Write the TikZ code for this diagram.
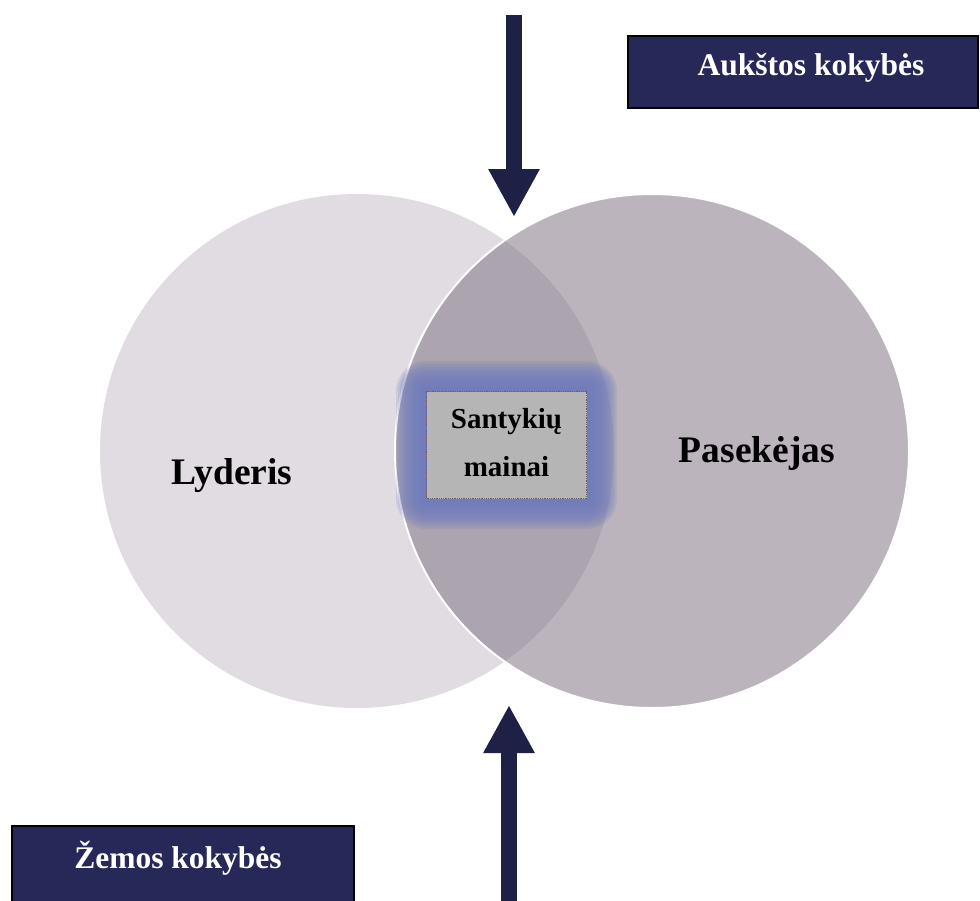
\documentclass[tikz,border=0pt]{standalone}
\usepackage{fontspec}
\setmainfont{Liberation Serif}
\usetikzlibrary{arrows.meta}

\definecolor{leaderfill}{RGB}{224,220,226}
\definecolor{followerfill}{RGB}{126,113,128}
\definecolor{navybox}{RGB}{38,41,87}
\definecolor{arrowink}{RGB}{30,32,69}
\definecolor{glowblue}{RGB}{112,124,190}
\definecolor{exchangefill}{RGB}{181,181,181}
\definecolor{dotline}{RGB}{110,95,112}

\tikzset{
  setcircle/.style={circle, minimum size=514pt, inner sep=0pt},
  biglabel/.style={font=\fontsize{37.5}{42}\selectfont\bfseries, text=black},
  qualitybox/.style={draw=black, line width=1.5pt, fill=navybox, inner sep=0pt},
  qualitytext/.style={font=\fontsize{31.5}{36}\selectfont\bfseries, text=white},
  exchangebox/.style={draw=dotline, densely dotted, line width=0.8pt, fill=exchangefill,
    minimum width=160pt, minimum height=107pt, inner sep=0pt},
  exchangetext/.style={font=\fontsize{29}{48}\selectfont\bfseries, align=center, text=black},
  bigarrow/.style={draw=arrowink, line width=16pt, -{Triangle[width=48pt,length=48pt]}},
}

\begin{document}
\begin{tikzpicture}[x=1pt,y=-1pt]
  \useasboundingbox (0,0) rectangle (980,900);
  \fill[white] (0,0) rectangle (980,900);

  % the two overlapping sets
  \node[setcircle, fill=leaderfill] (leader) at (357,451) {};
  \node[setcircle, draw=white, line width=2pt, fill=followerfill, fill opacity=0.52] (follower) at (652,451) {};

  % soft blue halo behind the exchange box
  \foreach \k in {1,...,15} {
    \fill[glowblue, opacity=0.17, rounded corners=2*\k pt]
      (426-2*\k, 391-2*\k) rectangle (587+2*\k, 499+2*\k);
  }

  % exchange box in the overlap
  \node[exchangebox] (exchange) at (506.5,445) {};
  \node[exchangetext] (exchangelabel) at (506.5,443) {Santykių\\mainai};

  % set labels
  \node[biglabel] (leaderlabel) at (232,476) {Lyderis};
  \node[biglabel] (followerlabel) at (757,453) {Pasekėjas};

  % quality boxes
  \node[qualitybox, minimum width=350pt, minimum height=72pt] (highbox) at (803,72) {};
  \node[qualitytext] (hightext) at (811,68) {Aukštos kokybės};
  \clip (0,0) rectangle (980,900);
  \node[qualitybox, minimum width=342pt, minimum height=84pt] (lowbox) at (183,868) {};
  \node[qualitytext] (lowtext) at (178,858) {Žemos kokybės};

  % vertical arrows towards the overlap
  \coordinate (hightail) at (514,15);
  \coordinate (hightip) at (514,217);
  \coordinate (lowtail) at (509,905);
  \coordinate (lowtip) at (509,705);
  \draw[bigarrow] (hightail) -- (hightip);
  \draw[bigarrow] (lowtail) -- (lowtip);
\end{tikzpicture}
\end{document}
